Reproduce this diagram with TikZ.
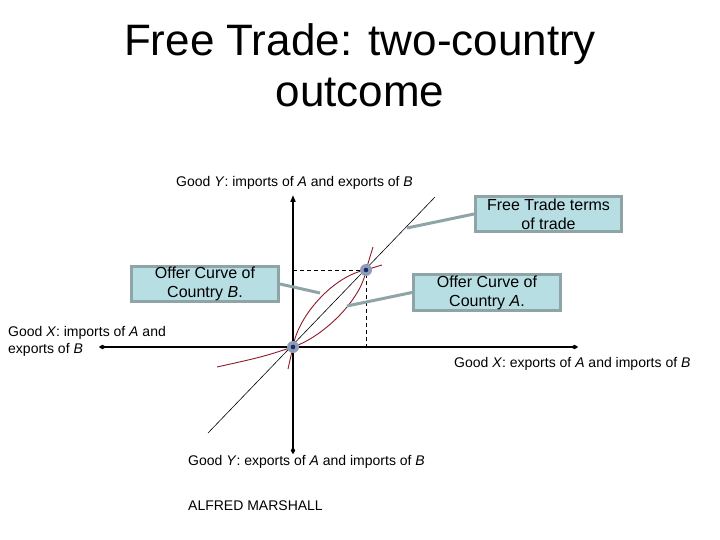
\documentclass[tikz,border=0pt]{standalone}
\usepackage{fontspec}
\setmainfont{Liberation Sans}
\usetikzlibrary{arrows.meta}
\definecolor{boxfill}{RGB}{183,222,227}
\definecolor{boxline}{RGB}{143,164,166}
\definecolor{curvered}{RGB}{140,26,40}
\definecolor{ptfill}{RGB}{140,158,182}
\definecolor{ptdot}{RGB}{25,40,110}
\tikzset{
  lbl/.style={inner sep=0pt, font=\fontsize{14}{17}\selectfont},
  callbox/.style={draw=boxline, line width=3pt, fill=boxfill, inner sep=0pt,
     align=center, font=\fontsize{16}{19}\selectfont},
  callout/.style={draw=boxline, line width=3pt},
  axisline/.style={line width=2.6pt},
  offer/.style={draw=curvered, line width=0.9pt},
  tot/.style={line width=0.6pt},
  guide/.style={line width=1pt, dash pattern=on 4pt off 3pt},
  ptmark/.style={circle, fill=ptfill, minimum size=12pt, inner sep=0pt},
}
\begin{document}
\begin{tikzpicture}[x=1pt,y=-1pt]
\useasboundingbox (0,0) rectangle (720,540);
% title
\node[anchor=base, inner sep=0pt, font=\fontsize{44}{50}\selectfont] (t1) at (360,56) {Free Trade: two-country};
\node[anchor=base, inner sep=0pt, font=\fontsize{44}{50}\selectfont] (t2) at (360,107) {outcome};
% coordinates
\coordinate (O) at (293,347);
\coordinate (E) at (366,270);
\coordinate (ytop) at (293,195);
\coordinate (ybot) at (293,453);
\coordinate (xl) at (100,347);
\coordinate (xr) at (577,347);
\coordinate (yE) at (293,270);
\coordinate (xE) at (366,347);
\coordinate (d1) at (208,433);
\coordinate (d2) at (435,197);
% terms of trade line
\draw[tot] (d1) -- (d2);
% offer curve B (upper-left bulge)
\draw[offer] (288,369) .. controls (290,360) .. (O)
  .. controls (298,315) and (335,275) .. (E)
  .. controls (372,268) .. (382,265);
% offer curve A (lower-right bulge)
\draw[offer] (217,367) .. controls (262,357) .. (O)
  .. controls (325,336) and (362,298) .. (E)
  .. controls (369,258) .. (373,247);
% dashed guides
\draw[guide] (yE) -- (E) -- (xE);
% axes
\draw[axisline, {Circle[length=5pt,width=4pt]}-{Triangle[length=7pt,width=5pt]}] (ybot) -- (ytop);
\draw[axisline, {Circle[length=5pt,width=4pt]}-{Circle[length=5pt,width=4pt]}] (xl) -- (xr);
% points
\node[ptmark] (pO) at (O) {};
\fill[ptdot] (O) circle (2.3pt);
\node[ptmark] (pE) at (E) {};
\fill[ptdot] (E) circle (2.3pt);
% callout boxes
\node[callbox, minimum width=146pt, minimum height=35pt] (ft) at (548.5,214) {Free Trade terms\\of trade};
\node[callbox, minimum width=147pt, minimum height=35pt] (ob) at (205,284) {Offer Curve of\\Country \textit{B}.};
\node[callbox, minimum width=147pt, minimum height=36pt] (oa) at (487,292.5) {Offer Curve of\\Country \textit{A}.};
\coordinate (ftend) at (407,228);
\coordinate (obend) at (320,293);
\coordinate (oaend) at (347,306);
\draw[callout] (ft.west) -- (ftend);
\draw[callout] (ob.east) -- (obend);
\draw[callout] (oa.west) -- (oaend);
% axis labels
\node[lbl, anchor=base west] (ly1) at (176,187) {Good \textit{Y}: imports of \textit{A} and exports of \textit{B}};
\node[lbl, anchor=base west] (lx1a) at (8,336) {Good \textit{X}: imports of \textit{A} and};
\node[lbl, anchor=base west] (lx1b) at (8,353) {exports of \textit{B}};
\node[lbl, anchor=base west] (lx2) at (454,367) {Good \textit{X}: exports of \textit{A} and imports of \textit{B}};
\node[lbl, anchor=base west] (ly2) at (188,465) {Good \textit{Y}: exports of \textit{A} and imports of \textit{B}};
\node[lbl, anchor=base west] (am) at (188,510) {ALFRED MARSHALL};
\end{tikzpicture}
\end{document}
